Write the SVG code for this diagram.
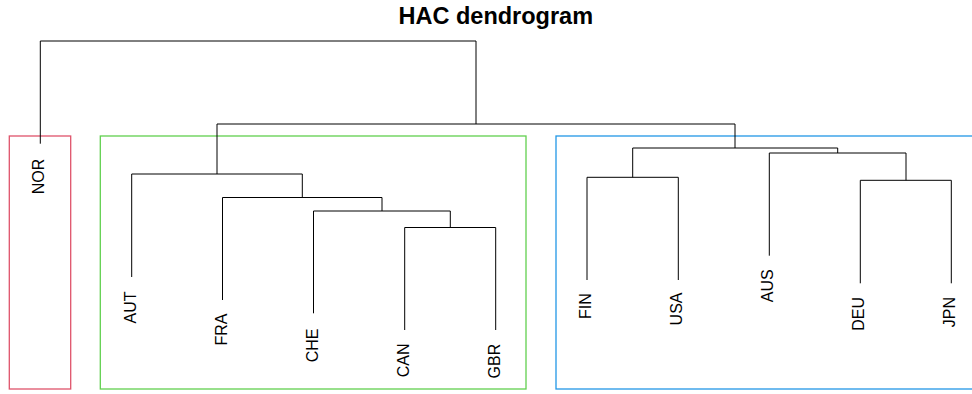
<svg xmlns="http://www.w3.org/2000/svg" width="972" height="394" viewBox="0 0 972 394">
<style>
.lbl{font-family:"Liberation Sans",Arial,sans-serif;font-size:16px;fill:#000;text-anchor:end}
.title{font-family:"Liberation Sans",Arial,sans-serif;font-size:23.5px;font-weight:bold;fill:#000;text-anchor:middle}
.edge{fill:none;stroke:#000;stroke-width:1}
.box{fill:none;stroke-width:1.3}
</style>
<rect width="972" height="394" fill="#fff"/>
<text class="title" x="495.8" y="24">HAC dendrogram</text>
<g id="clusters">
<rect id="cluster-red" class="box" x="9.3" y="136" width="61.4" height="253" stroke="#DF536B"/>
<rect id="cluster-green" class="box" x="100.3" y="136" width="425.7" height="253" stroke="#61D04F"/>
<rect id="cluster-blue" class="box" x="556" y="136" width="420" height="253" stroke="#2297E6"/>
</g>
<g id="connectors">
<path class="edge" d="M40.3 143.7 V41 H476 V124
M217 174 V124 H735 V148
M131.7 277 V174 H302.3 V197.5
M222.5 300 V197.5 H382 V211
M313.5 313.3 V211 H450.3 V227.5
M404.7 330 V227.5 H495.7 V330
M587 280 V177.3 H678.3 V280
M632.7 177.3 V148 H837.7 V153
M769.3 255.7 V153 H906 V180.3
M860.3 283.3 V180.3 H951.3 V283.3"/>
</g>
<g id="NOR"><text class="lbl" transform="translate(44.3,158.8) rotate(-90)">NOR</text></g>
<g id="AUT"><text class="lbl" transform="translate(135.7,291.4) rotate(-90)">AUT</text></g>
<g id="FRA"><text class="lbl" transform="translate(226.5,313.5) rotate(-90)">FRA</text></g>
<g id="CHE"><text class="lbl" transform="translate(317.5,328.5) rotate(-90)">CHE</text></g>
<g id="CAN"><text class="lbl" transform="translate(408.7,343.5) rotate(-90)">CAN</text></g>
<g id="GBR"><text class="lbl" transform="translate(499.7,343.8) rotate(-90)">GBR</text></g>
<g id="FIN"><text class="lbl" transform="translate(591,293.2) rotate(-90)">FIN</text></g>
<g id="USA"><text class="lbl" transform="translate(682.3,292.5) rotate(-90)">USA</text></g>
<g id="AUS"><text class="lbl" transform="translate(773.3,269.3) rotate(-90)">AUS</text></g>
<g id="DEU"><text class="lbl" transform="translate(864.3,297) rotate(-90)">DEU</text></g>
<g id="JPN"><text class="lbl" transform="translate(955.3,297) rotate(-90)">JPN</text></g>
</svg>
